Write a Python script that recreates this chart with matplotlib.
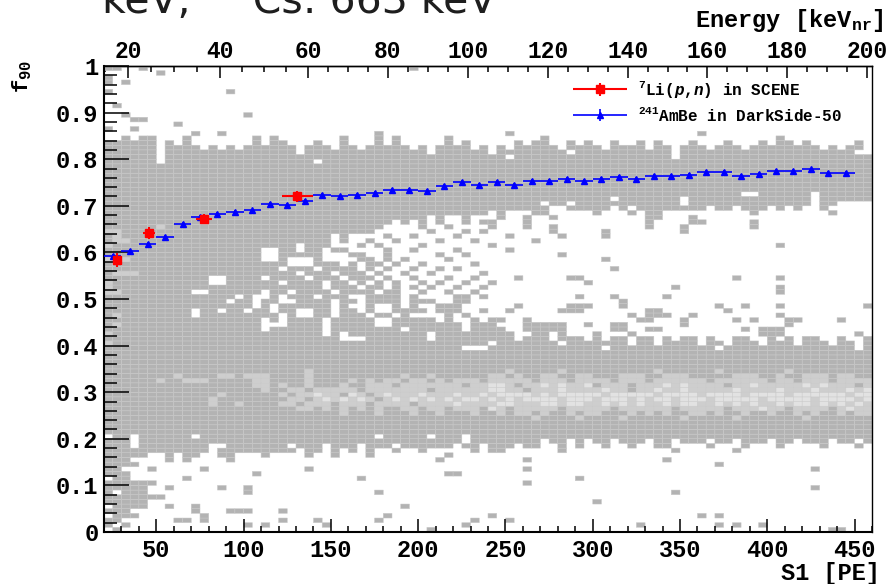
import numpy as np
import matplotlib
matplotlib.use("Agg")
import matplotlib.pyplot as plt
from matplotlib.colors import ListedColormap, BoundaryNorm
from matplotlib.ticker import MultipleLocator, FuncFormatter
from matplotlib.container import ErrorbarContainer
from matplotlib.legend_handler import HandlerErrorbar

plt.rcParams['font.family'] = ['Liberation Mono', 'DejaVu Sans Mono']
plt.rcParams['font.weight'] = 'bold'
plt.rcParams['mathtext.fontset'] = 'custom'
plt.rcParams['mathtext.rm'] = 'Liberation Mono:bold'
plt.rcParams['mathtext.it'] = 'Liberation Mono:italic:bold'
plt.rcParams['mathtext.bf'] = 'Liberation Mono:bold'

# 2D histogram: S1 bins of 5 PE (20..460), f90 bins of 0.01 (0..1)
s1_edges = np.arange(20, 461, 5)
f90_edges = np.linspace(0, 1, 101)

# cell rows, top row (f90 0.99) first
# '.' empty, '#' few entries, '+' more, '*' most   (groups of 10 S1 bins)
cells_top = [
    "##..#..... .......... .......... .....#.... .......... .......... .......... .......... ........",
    "......#... .......... .......... .......... .......... .......... .......... .......... ........",
    "#......... .......... .......... .......... .......... .......... .......... .......... ........",
    "#.#....... .......... .......... .......... .......... .......... .......... .......... ........",
    ".......... .......... .......... .......... .......... .......... .......... .......... ........",
    "#......... ....#..... .......... .......... .......... .......... .......... .......... ........",
    ".......... .......... .......... .......... .......... .......... .......... .......... ........",
    ".......... .......... .......... .......... .......... .......... .......... .......... ........",
    ".#........ .......... .......... .......... .......... .......... .......... .......... ........",
    ".......... .......... .......... .......... .......... .......... .......... .......... ........",
    "..#....... ......#... .......... .......... .......... .......... .......... .......... ........",
    "...##..... .......... .......... .......... .......... .......... .......... .......... ........",
    "........#. .......... .......... .......... .......... .......... .......... .......... ........",
    "#..#...... .......... .......... .......... .......... .......... .......... .......... ........",
    ".......... #..#...... .......... .#........ ......#... .......... ........#. .......... ........",
]
cells_nr = [
    "..#.##...# .......#.# .......#.. .#.#.....# .......... #......... .......... .......#.. ........",
    "######.#.# .......#.# #...#..#.. .#.#.....# .#.....#.# #..#.#..#. .#.#...#.. .#...#.##. #.....#.",
    "######.### #.#.#.#### ##.###.##. #####.#.## ##.#.#.### ##.####.## ##.##.###. ###.###### ##.#.##.",
    "######.### ########## ##.####### #######.## ####.##### ###.###### #####.#### ########## ######..",
    "######.### ########## ########## ########## ######.### ########## #####.#### ########## ########",
    "######.### ########## ####.##### ########## ########## ########## ########## ########## ########",
    "########## ########## ########## ########## ########## ########## ########## ########## ########",
    "########## ########## ########## ########## ########## ########## ########## ########## ########",
    "########## ########## ########## ########## ########## ########## ########## ########## ########",
    "########## ########## ########## ########## ########## ########## ########## ########## ########",
    "########## ########## ########## ########## ########## ########## ########## ########## ########",
    "########## ########## ########## ########## ########## ########## ########## ########## ########",
    "########## ########## ########## ########## ########## ########## ########## ###..##### #.######",
    "########## ########## ########## ########## ########## ########.# ######.### ########## #.######",
    "########## ########## ########## ########## ########## .##.###### ######.### ########## #.##....",
]
cells_gap = [
    "########## ########## ########## ########## ########## #..#####.# .########. ##.###.#.# ..#.....",
    "########## ########## ########## ########## ####.#...# #.....#... #.##...... ....#..... ...#....",
    "########## ########## ########## #######.#. .#...#..#. .#........ ..##...#.. .......... ........",
    "########## ########## ########## ###.#.#.#. .#.##...#. .......... ..#....##. ....#..... ........",
    "######+### ########## ########## ##....#..# ....#...#. .#........ ..#...#... ....#..... ........",
    "++######## ########## ########## #......#.. .#.#...... .#.....#.. ......#... .......... ........",
    "#+######## ########## ######.#.. ..#..#.... #.....#... ..#....#.. .......... .......... ........",
    "#++####### ########## ######.#.. #..#....#. ..#......# .......... .......... .......... ........",
    "+######### ########## ##.###...# .#....#... ....#..... .......... .......... .......#.. ........",
    "########## ########.. ##.##.##.. ..#..#.... #.....#... .......... .......... .......... ........",
    "########## ########.. #####...## ..#.....#. .#........ ..#....... .......... .......... ........",
    "+++####### ########.. #...#....# #.#.#....# .......... .......#.. .......... .......... ........",
    "########## ########## #...###.#. ##.#..#... ..#....... .......... .......... .......... ........",
    "########## ########## .###.####. #.#..#..#. #......... ........#. .......... .......... ........",
    "#+++###### ########## ##.###.### .#..#..#.. ...#...... .......... .......... .......... ........",
    "########## ##..####.# ###.###.## #.#..#...# ..#....#.. ...##..... .......... ..#....#.. ........",
    "+######### ##..###### .####.##.# .#.#..#.#. .#..#..... .....#.... .......... .......... ........",
    "+######### ########## #####.###. ##.#.#.#.. #..#...... .......... .....#.... .......#.. ........",
    "++######## ..######.# #.####.### #.##..#..# ..#....... .......... .......... .......#.. ........",
    "########## #####.#..# .###.###.. ####.#.... ##.#...... ....#...#. ....#..... .......... ........",
    "########## ####.##.## ..####.##. ####.###.. ##........ .........# .......... .......... ........",
    "########## #######.#. ######.#.. #..#.#..## #......#.. ...###...# .......... #..#...#.. .......#",
    "########## .##.##.##. ##..##.##. #..####.## #..#..#... ..###..... ..##...... .#........ ........",
    "#+######## .######### .#..##.### .##.#....# .#........ .......... #.###..#.. .......#.. ........",
    "########## ########.# .####.#### #..#####.# ..#.##..#. .......... .##...#... ..#.#...## ....#...",
    "#+######## ########.. .####.#### #..####### #.###...## ###..#..## ......#... ........#. ........",
    "########## ########.# #####.#### ####.##### #.####..## ###.....## ..##...... ...#.###.. ........",
    "+######### ########## #####.#.## #######.## #######..# #.#...#... #......... .....###.. ......#.",
    "########## ########## #######... #######.## #######.## #.###.#.## .##.#.##.# ..##..#.#. ##..#..#",
    "+######### ########## ########## ########## ####.##### ##.####### .##.####.# #.###.###. ###.##.#",
    "########## ########## ########## ########## #...###### #######.## ########## .######### ######.#",
]
cells_er = [
    "########## ########## ########## ########## ########## ########## ########## ########## ########",
    "########## ########## ########## ########## ########## ########## ########## ########## ########",
    "########## ########## ########## ########## ########## ########## ########## ########## ########",
    "########## ########## ########## ########## ########## ########## ########## ########## ########",
    "########## ########## ###+###### ########## ######+### ##+####### ###+###### +#######+# ########",
    "########+# ###++#+++# ###+###### ####+##+## ####++#+## ++##++###+ ++##+++### ##+++##+## +++#++##",
    "######+##+ ++#####++# ###+####+# +#++#++#+# +++#+++++# +++#++++#+ ++#++++++# ++++++#++# +++#++++",
    "########## #######++# +##+###+## +++#++++++ +#++**+#++ *+*++*#+++ #+++*+*+++ +#++*+++++ *+*+++#+",
    "########## ########+# #++#+++++# +++++++#++ ++++**++#+ ++*++++*++ #++*++*+++ ++*++++*++ +*+++*+*",
    "########## ###+###### +#++*++#*+ #+*+++*+++ *++*+****+ *+*****+** ***+****+* ***+****+* *****+**",
    "########## ##+####### #++#+*+*+* +#+*+*+*+* +**+*+*+** **+***+*** +*+**+***+ *****+**** *+****+*",
    "########## ##+##+#### ++#+++#+++ #++++#++++ *++++**+++ **+**++*+* +*++*+**++ *+*+*++*+* *+*+*+*+",
    "########## ########## ##++#+#+#+ #+##++#++# +++#*+#+++ ++#+++++#+ +++++#++++ +#+++*++#+ +++#+*++",
    "########## ########## #######+## #+###+##+# ##+##+#++# +##+#++### +#+#+##++# +##+##+##+ #+##+#++",
    "########## ########## ########## ########## #########+ ####+####+ ######+### ##+####### +#######",
    "########## ########## ########## ########## ########## ########## ########## ########## ########",
    "########## ########## ########## ########## ########## ########## ########## ########## ########",
    "########## ########## ########## ########## ########## ########## ########## ########## ########",
    ".##.###### .######### ########## #.#####.## #.######## ########## ########## ########## ########",
    "###.###### ########## ########## ########## #.######## .##.#.##.# ##.##.###. ##.###.##. ###.##.#",
    "###.###### ##..###### #.###.###. ###.###### .##.###.## ..#.#..#.. #..##....# ...#...#.. ..#...#.",
]
cells_low = [
    "########## ##.####### ##.##.#.#. #..#..#... ..#.##.... ..#....... .....#.... ..#....... ........",
    "#####..#.# #..##...#. ...#..#... #........# .......... .......... .......... .......... ........",
    "###....#.# ....#..... .......... ........#. ........#. .......... ....#..... .......... ........",
    "####...... .......... .......... .......... .......... .......... .......... #......... ........",
    "##...#.... .#........ ...#...... .......... ........#. .......... .......... .......... .#......",
    "###....... .......#.. .......... .........# #......... .......... .......... .......... ........",
    ".##......# .......... .........# .......... .......... ....#..... .......... .......... ........",
    "######.... .......... .......... .......... ........#. .......... .......... .......... ........",
    "#####..#.. ...#..#... .......... .......... .......... .......... .......... .......... .#......",
    "#.###..... ......#... .......... .#........ .......... .......... .....#.... .......... ........",
    "#######... .......... .......... .......... .......... .......... .......... .......... ........",
    "#####..... .......... .......... .......... .......... ......#... .......... .......... ........",
    ".####..#.. #......... .......... ....#..... .......... .......... .......... .......... ........",
    "###....... #...###... #......... .......... .......... .......... .......... .......... ........",
    ".###...... .#........ .......... ..#....... ....#..... .......... ........#. #......... ........",
    "##......## .#........ #...#..... .#........ ..#...#... .......... .......... .......... ........",
    "#.#....... ......#.#. .....#.... .......... .#........ .......... .#........ #.#..#.... ........",
    ".#........ .......... .......... .......#.. .......... .......... .......... .......... ...##...",
]

# AmBe in DarkSide-50: mean f90 in 10 PE wide S1 bins
ambe_s1 = [25, 35, 45, 55, 65, 75, 85, 95, 105, 115, 125, 135, 145, 155, 165,
           175, 185, 195, 205, 215, 225, 235, 245, 255, 265, 275, 285, 295,
           305, 315, 325, 335, 345, 355, 365, 375, 385, 395, 405, 415, 425,
           435, 445]
ambe_f90 = [0.592, 0.604, 0.619, 0.634, 0.661, 0.676, 0.682, 0.686, 0.690,
            0.704, 0.701, 0.710, 0.723, 0.720, 0.723, 0.728, 0.734, 0.734,
            0.732, 0.742, 0.752, 0.745, 0.751, 0.744, 0.753, 0.754, 0.758,
            0.754, 0.758, 0.762, 0.758, 0.764, 0.764, 0.766, 0.772, 0.773,
            0.765, 0.768, 0.775, 0.775, 0.778, 0.770, 0.770]

# 7Li(p,n) in SCENE
scene_s1 = [27.3, 46.0, 77.5, 130.8]
scene_s1_err = [2.3, 3.4, 4.6, 8.8]
scene_f90 = [0.584, 0.642, 0.671, 0.720]
scene_f90_err = [0.015, 0.013, 0.011, 0.011]

# top axis: nuclear recoil energy at S1 positions
kev_ticks = [20, 40, 60, 80, 100, 120, 140, 160, 180, 200]
kev_tick_s1 = [33.7, 86.5, 136.9, 182.7, 228.5, 274.4, 320.2, 365.5, 411.3, 457.1]


def interp_ext(x, xp, fp):
    x = np.asarray(x, dtype=float)
    left = fp[0] + (x - xp[0]) * (fp[1] - fp[0]) / (xp[1] - xp[0])
    right = fp[-1] + (x - xp[-1]) * (fp[-1] - fp[-2]) / (xp[-1] - xp[-2])
    return np.where(x < xp[0], left, np.where(x > xp[-1], right, np.interp(x, xp, fp)))


def s1_to_kev(s1):
    return interp_ext(s1, kev_tick_s1, kev_ticks)


def kev_to_s1(kev):
    return interp_ext(kev, kev_ticks, kev_tick_s1)


shade = {'.': 0, '#': 1, '+': 2, '*': 3}
rows = cells_top + cells_nr + cells_gap + cells_er + cells_low
grid = np.array([[shade[ch] for ch in ''.join(r.split())] for r in rows[::-1]], dtype=float)
if grid.shape != (len(f90_edges) - 1, len(s1_edges) - 1):
    raise ValueError(grid.shape)

fig = plt.figure(figsize=(8.92, 5.84), dpi=100)
ax = fig.add_axes([104 / 892, 52 / 584, 768 / 892, 466 / 584])

cmap = ListedColormap(['#b3b3b3', '#cecece', '#e2e2e2'])
norm = BoundaryNorm([0.5, 1.5, 2.5, 3.5], cmap.N)
ax.pcolor(s1_edges, f90_edges, np.ma.masked_equal(grid, 0), cmap=cmap, norm=norm,
          edgecolors='#c9c9c9', linewidth=0.35)

ambe = ax.errorbar(ambe_s1, ambe_f90, xerr=5, yerr=0.004, fmt='^', color='blue',
                   ms=5, elinewidth=1.2, capsize=0, zorder=3)
scene = ax.errorbar(scene_s1, scene_f90, xerr=scene_s1_err, yerr=scene_f90_err, fmt='s',
                    color='red', ms=5.5, elinewidth=1.5, capsize=0, zorder=4)

ax.legend([scene, ambe],
          [r'$^{7}$Li($\mathit{p}$,$\mathit{n}$) in SCENE', r'$^{241}$AmBe in DarkSide-50'],
          loc='upper left', bbox_to_anchor=(573 / 892, 1 - 79 / 584),
          bbox_transform=fig.transFigure, frameon=False, fontsize=11.5,
          handlelength=3.4, handletextpad=0.7, labelspacing=0.35,
          borderpad=0, borderaxespad=0,
          handler_map={ErrorbarContainer: HandlerErrorbar(xerr_size=1.7, yerr_size=0.4)})

ax.set_xlim(20, 460)
ax.set_ylim(0, 1)
ax.xaxis.set_major_locator(MultipleLocator(50))
ax.xaxis.set_minor_locator(MultipleLocator(10))
ax.yaxis.set_major_locator(MultipleLocator(0.1))
ax.yaxis.set_minor_locator(MultipleLocator(0.02))
ax.yaxis.set_major_formatter(FuncFormatter(
    lambda v, p: '0' if abs(v) < 1e-6 else ('1' if abs(v - 1) < 1e-6 else f'{v:.1f}')))
ax.tick_params(axis='x', which='major', direction='in', length=9.5, width=1.1,
               labelsize=17, pad=5, top=False)
ax.tick_params(axis='x', which='minor', direction='in', length=4.5, width=1.1, top=False)
ax.tick_params(axis='y', which='major', direction='in', length=18, width=1.1,
               labelsize=17, pad=4, right=False)
ax.tick_params(axis='y', which='minor', direction='in', length=9.5, width=1.1, right=False)
for side in ['left', 'bottom']:
    ax.spines[side].set_linewidth(1.5)
for side in ['right', 'top']:
    ax.spines[side].set_linewidth(1.0)

sec = ax.secondary_xaxis('top', functions=(s1_to_kev, kev_to_s1))
sec.xaxis.set_major_locator(MultipleLocator(20))
sec.xaxis.set_minor_locator(MultipleLocator(5))
sec.tick_params(which='major', direction='in', length=8.5, width=1.1, labelsize=16.5, pad=2)
sec.tick_params(which='minor', direction='in', length=4.5, width=1.1)
sec.spines['top'].set_linewidth(1.0)

fig.text(884 / 892, 1 - 27 / 584, r'Energy [keV$_{\rm nr}$]', ha='right', va='baseline', fontsize=17)
fig.text(880 / 892, 1 - 580 / 584, 'S1 [PE]', ha='right', va='baseline', fontsize=17)
fig.text(22 / 892, 1 - 60 / 584, r'f$_{90}$', rotation=90, ha='center', va='top', fontsize=16)

# slide title cut off at the top edge
fig.text(102 / 892, 1 - 13.5 / 584, 'keV, ¹³⁷Cs: 663 keV', family='DejaVu Sans',
         weight='normal', fontsize=29.5, color='#1e1e1e', ha='left', va='baseline')

fig.savefig('out.png', dpi=100)
